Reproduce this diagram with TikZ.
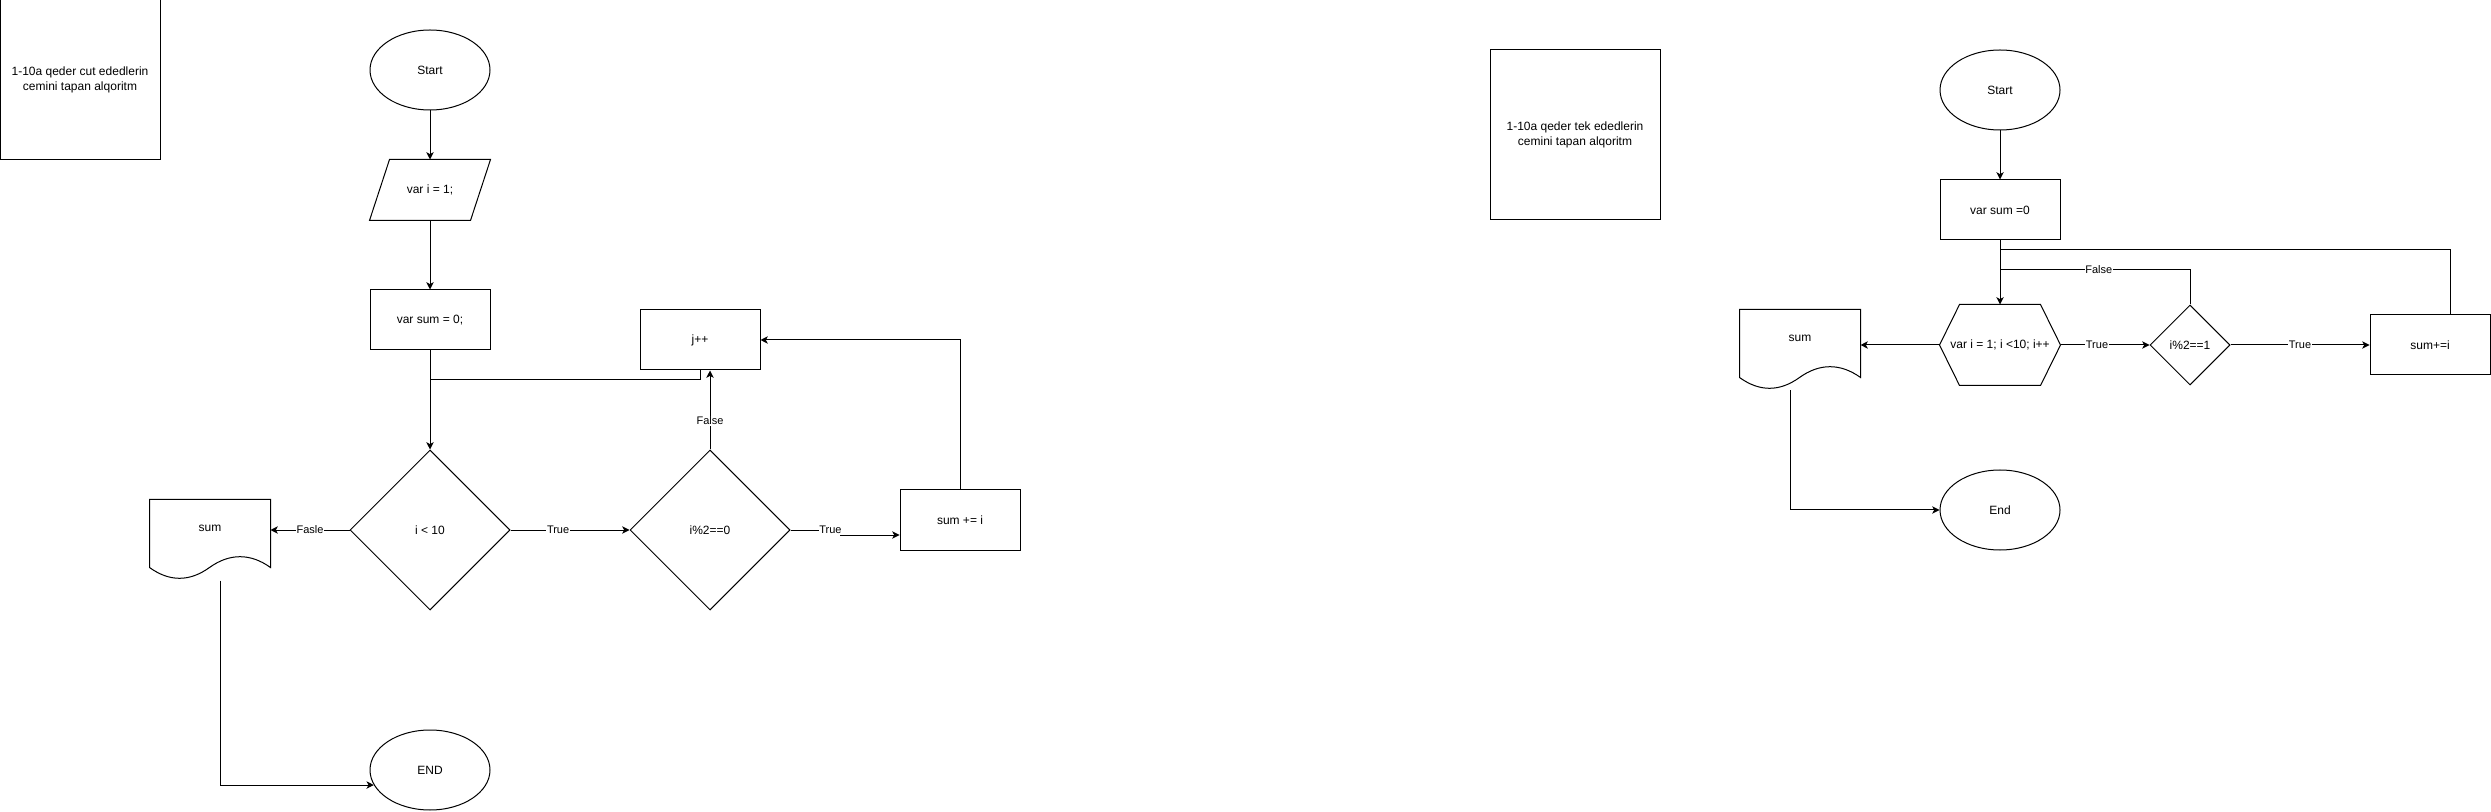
\documentclass[tikz,border=0pt]{standalone}
\usepackage{fontspec}
\setmainfont{Liberation Sans}
\usepackage{tikz}
\usetikzlibrary{shapes.geometric}
\usetikzlibrary{arrows.meta}
\usetikzlibrary{calc}
\tikzset{every picture/.style={line width=0.75pt}}

\begin{document}
\begin{tikzpicture}[x=0.75pt,y=0.75pt,yscale=-1,xscale=1,
  txt/.style={font=\fontsize{9pt}{10.8pt}\selectfont, align=center, inner sep=0pt},
  box/.style={txt, draw, rectangle, minimum width=90pt, minimum height=45pt},
  plain/.style={txt, rectangle, minimum width=90pt, minimum height=45pt},
  oval/.style={txt, draw, ellipse, minimum width=90pt, minimum height=60pt},
  dec/.style={txt, draw, diamond, aspect=1, minimum width=120pt, minimum height=120pt},
  lbl/.style={fill=white, inner sep=0.5pt, font=\fontsize{8.25pt}{9.9pt}\selectfont},
  arr/.style={-{Stealth[length=5.5pt,width=5.5pt,inset=1.5pt]}}]
\useasboundingbox (0,0) rectangle (2491,812);

% left flowchart
\node [box, minimum width=120pt, minimum height=120pt] (title1) at (80,80) {1-10a qeder cut ededlerin\\cemini tapan alqoritm};
\node [oval] (start1) at (430,70) {Start};
\node [plain] (init1) at (430,190) {var i = 1;};
\node [box] (sum1) at (430,320) {var sum = 0;};
\node [dec] (cond1) at (430,530) {i < 10};
\node [dec] (mod1) at (710,530) {i\%2==0};
\node [box] (inc1) at (700,340) {j++};
\node [box] (add1) at (960,520) {sum += i};
\node [plain, minimum height=42pt] (out1) at (210,528) {sum};
\node [oval] (end1) at (430,770) {END};
\coordinate (join1) at (430,380);
\draw ($(init1.north west)+(20,0)$) -- (init1.north east) -- ($(init1.south east)+(-20,0)$) -- (init1.south west) -- cycle;
\draw (out1.north west) -- (out1.north east) -- ($(out1.north east)+(0,68)$)
      .. controls +(-20,-14.4) and +(20,-14.4) .. ($(out1.north west)+(60,68)$)
      .. controls +(-20,14.4) and +(20,14.4) .. ($(out1.north west)+(0,68)$) -- cycle;
\draw [arr] (start1) -- (init1);
\draw [arr] (init1) -- (sum1);
\draw [arr] (sum1) -- (cond1);
\draw (inc1.south) |- (join1);
\draw [arr] (cond1) -- (mod1) node [lbl, pos=0.4] (t1) {True};
\draw [arr] (mod1.north) -- (mod1.north |- inc1.south) node [lbl, pos=0.36] (f1) {False};
\draw [arr] (mod1.east) -- ++(50,0) node [lbl, pos=0.8] (t2) {True} |- ($(add1.west)+(0,15)$);
\draw [arr] (add1.north) |- (inc1.east);
\draw [arr] (cond1.west) -- (cond1.west -| out1.east) node [lbl, midway] (f2) {Fasle};
\draw [arr] ($(out1.south)+(10,24)$) |- (end1.195);

% right flowchart
\node [box, minimum width=127.5pt, minimum height=127.5pt] (title2) at (1575,135) {1-10a qeder tek ededlerin\\cemini tapan alqoritm};
\node [oval] (start2) at (2000,90) {Start};
\node [box] (sum2) at (2000,210) {var sum =0};
\node [plain, minimum height=60pt] (loop2) at (2000,345) {var i = 1; i <10; i++};
\node [dec, minimum width=60pt, minimum height=60pt] (mod2) at (2190,345) {i\%2==1};
\node [box] (add2) at (2430,345) {sum+=i};
\node [plain, minimum height=42pt] (out2) at (1800,338) {sum};
\node [oval] (end2) at (2000,510) {End};
\coordinate (join2) at (2000,250);
\coordinate (join3) at (2000,270);
\draw (loop2.west) -- ($(loop2.north west)+(20,0)$) -- ($(loop2.north east)+(-20,0)$) -- (loop2.east)
      -- ($(loop2.south east)+(-20,0)$) -- ($(loop2.south west)+(20,0)$) -- cycle;
\draw (out2.north west) -- (out2.north east) -- ($(out2.north east)+(0,68)$)
      .. controls +(-20,-14.4) and +(20,-14.4) .. ($(out2.north west)+(60,68)$)
      .. controls +(-20,14.4) and +(20,14.4) .. ($(out2.north west)+(0,68)$) -- cycle;
\draw [arr] (start2) -- (sum2);
\draw [arr] (sum2) -- (loop2.north);
\draw ($(add2.north)+(20,0)$) |- (join2);
\draw (mod2.north) |- (join3) node [lbl, pos=0.74] (f3) {False};
\draw [arr] (loop2.east) -- (mod2) node [lbl, pos=0.41] (t3) {True};
\draw [arr] (mod2) -- (add2) node [lbl, midway] (t4) {True};
\draw [arr] (loop2.west) -- (loop2.west -| out2.east);
\draw [arr] ($(out2.south)+(-10,24)$) |- (end2.west);
\end{tikzpicture}
\end{document}
